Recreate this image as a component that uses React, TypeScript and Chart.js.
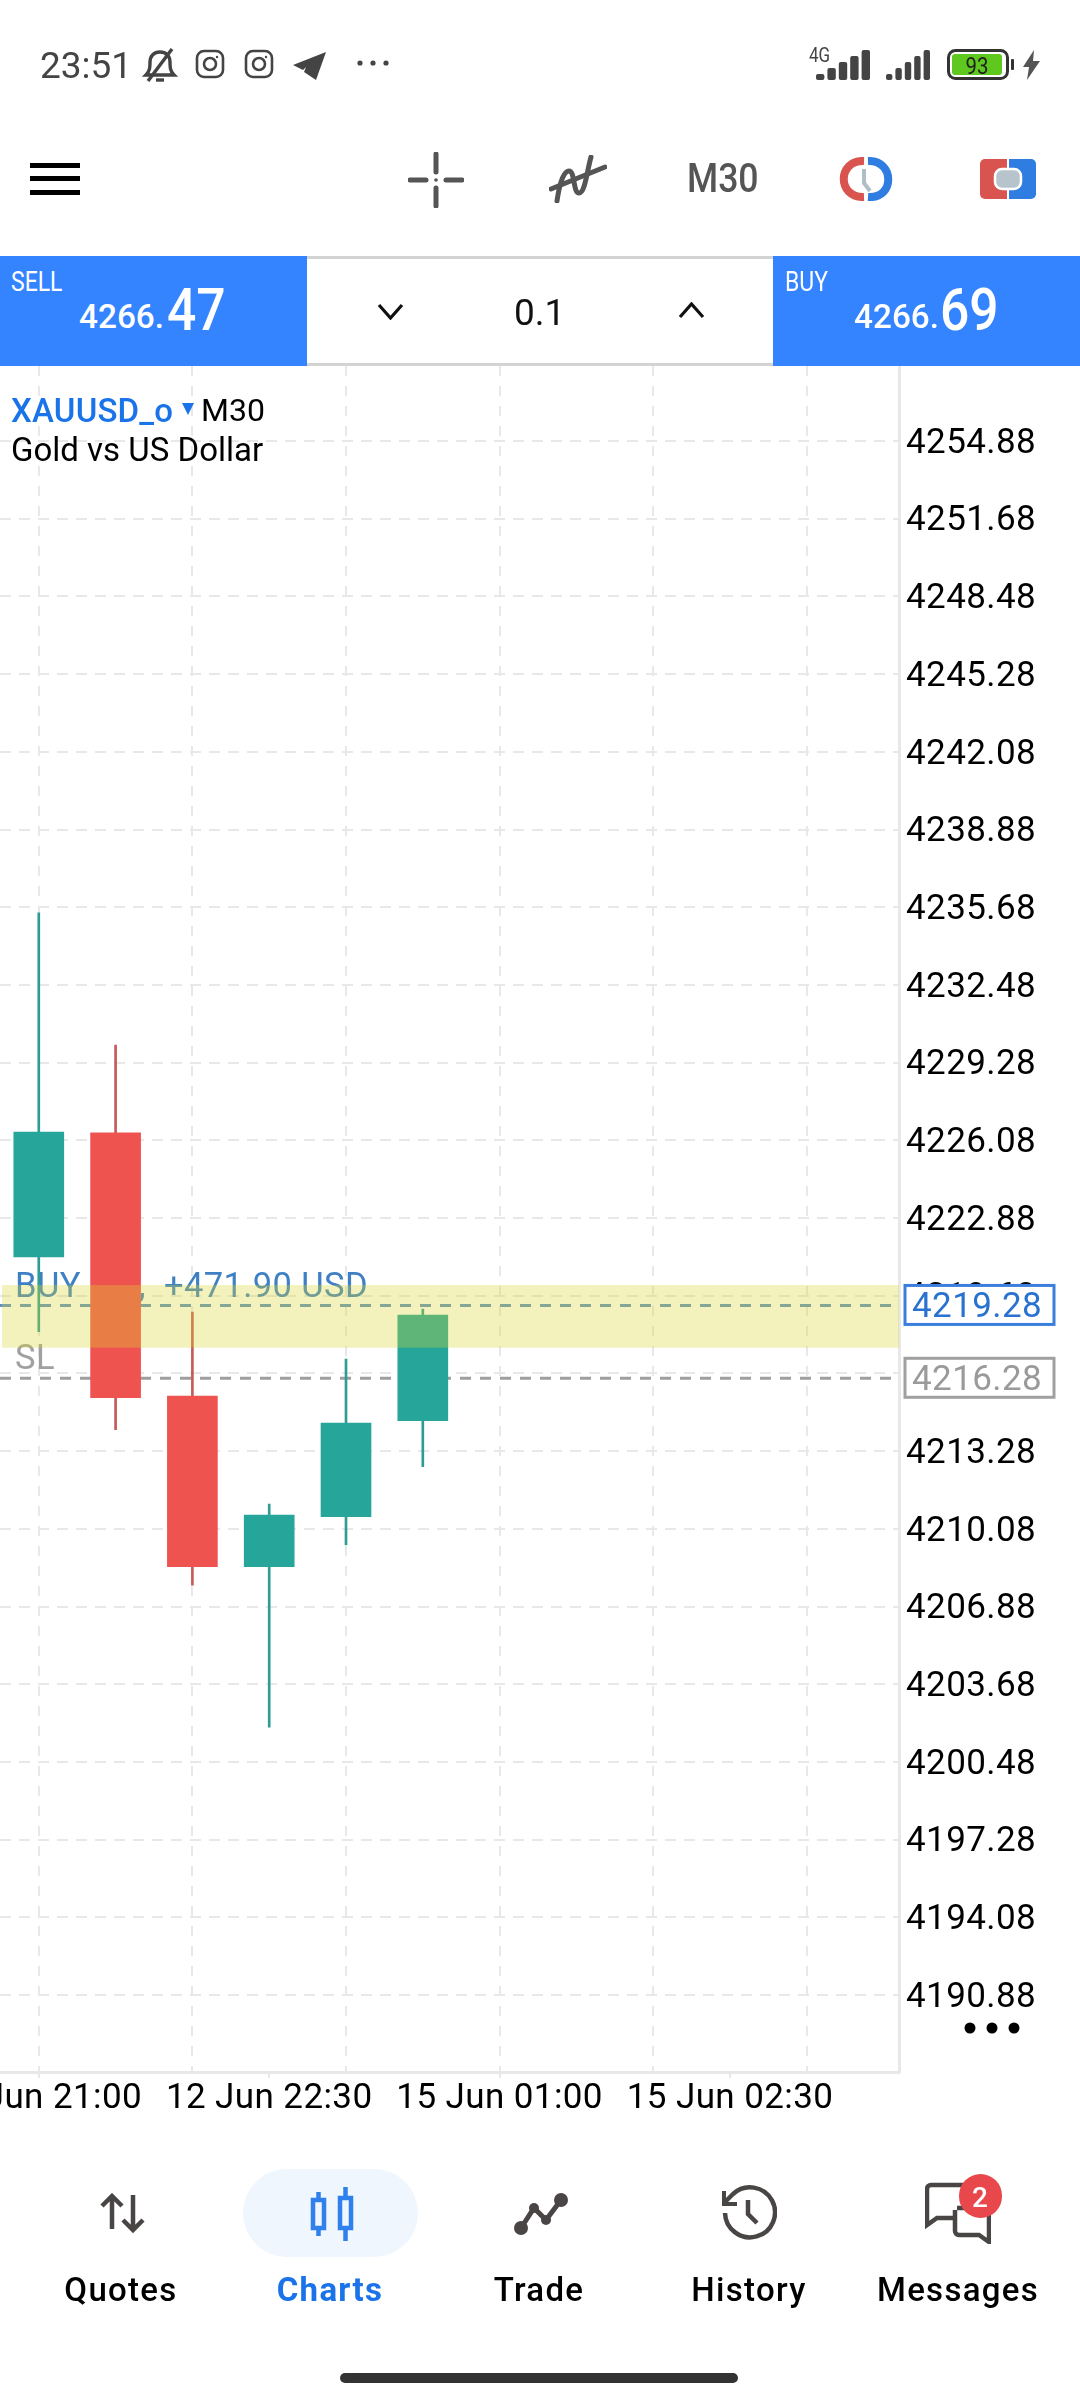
import React, { useEffect, useRef } from "react";
import { Chart, registerables } from "chart.js";

Chart.register(...registerables);

const candleIndex = [0, 1, 2, 3, 4, 5];
const candleOpen = [4221.28, 4226.39, 4215.55, 4208.52, 4210.58, 4214.53];
const candleHigh = [4235.45, 4230.0, 4219.01, 4211.1, 4217.07, 4219.13];
const candleLow = [4218.2, 4214.16, 4207.76, 4201.91, 4209.42, 4212.64];
const candleClose = [4226.42, 4215.48, 4208.52, 4210.65, 4214.44, 4218.88];
const priceTicks = [
  4254.88, 4251.68, 4248.48, 4245.28, 4242.08, 4238.88, 4235.68, 4232.48, 4229.28, 4226.08, 4222.88,
  4219.68, 4216.48, 4213.28, 4210.08, 4206.88, 4203.68, 4200.48, 4197.28, 4194.08, 4190.88,
];
const timeTickIndex = [0, 3, 6, 9];
const timeTickLabels = ["12 Jun 21:00", "12 Jun 22:30", "15 Jun 01:00", "15 Jun 02:30"];
const gridIndex = [0, 2, 4, 6, 8, 10];
const buyPrice = 4219.28;
const stopPrice = 4216.28;
const bandRange = [4217.54, 4220.12];
const buyLabel = "BUY 0.1,  +471.90 USD";
const stopLabel = "SL";
const yRange = [4187.71, 4257.97];
const xRange = [-0.505, 11.2];

const TEAL = "#26a69a";
const RED = "#ef5350";
const GRID = "#e8e8e8";
const BLUE = "#3584ff";

const chartOverlay = {
  id: "chartOverlay",
  beforeDraw(chart: any) {
    chart.ctx.letterSpacing = "0.4px";
  },
  beforeDatasetsDraw(chart: any) {
    const { ctx, chartArea, scales } = chart;
    const y = scales.y;
    ctx.save();
    const by = y.getPixelForValue(buyPrice);
    const sy = y.getPixelForValue(stopPrice);
    ctx.font = "34.5px Roboto";
    ctx.textAlign = "left";
    ctx.textBaseline = "alphabetic";
    ctx.fillStyle = "#3f80c4";
    ctx.fillText(buyLabel, 15, by - 8);
    ctx.fillStyle = "#a0a0a0";
    ctx.fillText(stopLabel, 15, sy - 9);
    ctx.lineWidth = 3;
    ctx.setLineDash([11, 9]);
    ctx.strokeStyle = "#5c90c6";
    ctx.beginPath();
    ctx.moveTo(0, by);
    ctx.lineTo(chartArea.right, by);
    ctx.stroke();
    ctx.strokeStyle = "#9e9e9e";
    ctx.beginPath();
    ctx.moveTo(0, sy);
    ctx.lineTo(chartArea.right, sy);
    ctx.stroke();
    ctx.restore();
  },
  afterDatasetsDraw(chart: any) {
    const { ctx, chartArea, scales } = chart;
    const y = scales.y;
    const t = y.getPixelForValue(bandRange[1]);
    const b = y.getPixelForValue(bandRange[0]);
    ctx.save();
    ctx.fillStyle = "rgba(218,214,46,0.32)";
    ctx.fillRect(2, t, chartArea.right - 2, b - t);
    ctx.restore();
  },
  afterDraw(chart: any) {
    const { ctx, scales } = chart;
    const y = scales.y;
    const box = (value: number, color: string, text: string) => {
      const c = y.getPixelForValue(value);
      ctx.save();
      ctx.fillStyle = "#fff";
      ctx.fillRect(905, c - 20, 149, 39);
      ctx.strokeStyle = color;
      ctx.lineWidth = 3;
      ctx.strokeRect(905, c - 20, 149, 39);
      ctx.fillStyle = text;
      ctx.font = "35px Roboto";
      ctx.textAlign = "left";
      ctx.textBaseline = "middle";
      ctx.fillText(value.toFixed(2), 912, c + 3);
      ctx.restore();
    };
    box(buyPrice, "#3a7fdc", "#2a72d0");
    box(stopPrice, "#a0a0a0", "#9a9a9a");
  },
};

function T({ x, base, size, color = "#000", weight = 400, anchor = "left", sx = 1, sy = 1, ls = 0, children }: any) {
  const tx = anchor === "center" ? "translateX(-50%) " : "";
  return (
    <div
      style={{
        position: "absolute",
        left: x,
        top: base - 0.841 * size,
        fontFamily: "Roboto",
        fontSize: size,
        lineHeight: `${size}px`,
        color,
        fontWeight: weight,
        letterSpacing: ls,
        whiteSpace: "pre",
        transformOrigin: `${anchor === "center" ? "50%" : "0"} 84%`,
        transform: `${tx}scale(${sx},${sy})`,
      }}
    >
      {children}
    </div>
  );
}

function Instagram({ x }: { x: number }) {
  return (
    <svg style={{ position: "absolute", left: x, top: 49 }} width="30" height="30" viewBox="0 0 30 30" fill="none" stroke="#444" strokeWidth="2.6">
      <rect x="2" y="2" width="26" height="26" rx="7" />
      <circle cx="15" cy="15" r="6" />
      <circle cx="22" cy="8" r="1.2" fill="#444" stroke="none" />
    </svg>
  );
}

function Signal({ x, w }: { x: number; w: number }) {
  const hs = [6, 12, 18, 24, 30];
  return (
    <svg style={{ position: "absolute", left: x, top: 50 }} width={w} height="30" viewBox={`0 0 ${w} 30`}>
      {hs.map((h, i) => (
        <rect key={i} x={(w / 5) * i + 1} y={30 - h} width={w / 5 - 3} height={h} rx="2" fill="#444" />
      ))}
    </svg>
  );
}

function StatusBar() {
  return (
    <>
      <T x={40} base={78} size={37} color="#444">23:51</T>
      <svg style={{ position: "absolute", left: 142, top: 47 }} width="36" height="36" viewBox="0 0 36 36" fill="none" stroke="#444" strokeWidth="3.4">
        <path d="M4 28h28c-4-4-4-8-4-13 0-6-4-10-10-10S8 9 8 15c0 5 0 9-4 13z" />
        <path d="M14 33h8" />
        <path d="M30 2 6 34" />
      </svg>
      <Instagram x={195} />
      <Instagram x={244} />
      <svg style={{ position: "absolute", left: 293, top: 52 }} width="33" height="28" viewBox="0 0 33 28">
        <path d="M33 0 0 13l10 5 3-3-2 5 12 8z" fill="#444" />
      </svg>
      <svg style={{ position: "absolute", left: 356, top: 58 }} width="34" height="10">
        <circle cx="4" cy="5" r="2.6" fill="#444" />
        <circle cx="17" cy="5" r="2.6" fill="#444" />
        <circle cx="30" cy="5" r="2.6" fill="#444" />
      </svg>
      <T x={809} base={62} size={20} color="#444" sx={0.85}>4G</T>
      <Signal x={815} w={57} />
      <Signal x={885} w={47} />
      <svg style={{ position: "absolute", left: 947, top: 49 }} width="68" height="31">
        <rect x="1.5" y="1.5" width="59" height="28" rx="7" fill="none" stroke="#333" strokeWidth="3" />
        <rect x="5" y="5" width="50" height="21" rx="3" fill="#5ec81e" />
        <rect x="64" y="10" width="3" height="11" rx="1" fill="#333" />
      </svg>
      <T x={977} base={74} size={24} color="#222" anchor="center" sx={0.85}>93</T>
      <svg style={{ position: "absolute", left: 1023, top: 50 }} width="17" height="30" viewBox="0 0 17 30">
        <path d="M11 0 0 17h6l-2 13L17 11h-7z" fill="#555" />
      </svg>
    </>
  );
}

function Toolbar() {
  return (
    <>
      {[163, 176, 190].map((t) => (
        <div key={t} style={{ position: "absolute", left: 30, top: t, width: 50, height: 5, background: "#000" }} />
      ))}
      <svg style={{ position: "absolute", left: 408, top: 152 }} width="56" height="56" viewBox="0 0 56 56" fill="none" stroke="#555" strokeWidth="5" strokeLinecap="round">
        <path d="M28 2v18M28 36v18M2 28h16M38 28h16" />
        <circle cx="28" cy="28" r="1.8" fill="#555" stroke="none" />
      </svg>
      <svg style={{ position: "absolute", left: 549, top: 155 }} width="58" height="48" viewBox="0 0 58 48" fill="none" stroke="#555" strokeWidth="5" strokeLinecap="round">
        <path d="M2 34 56 12" />
        <path d="M8 46c2-14 6-30 12-30s4 22 10 22 8-22 12-36" />
      </svg>
      <T x={687} base={193} size={40} color="#555" weight={500} sx={0.89}>M30</T>
      <svg style={{ position: "absolute", left: 838, top: 157 }} width="56" height="44" viewBox="0 0 56 44" fill="none" strokeWidth="8">
        <path d="M26 4C-1 3-1 41 26 40" stroke="#d9534f" />
        <path d="M30 4c27-1 27 38 0 36" stroke="#2f7de0" />
        <path d="M26 12v14l6 8" stroke="#b0bec5" strokeWidth="4" />
      </svg>
      <svg style={{ position: "absolute", left: 980, top: 159 }} width="56" height="40" viewBox="0 0 56 40">
        <path d="M5 0h22v40H5a5 5 0 0 1-5-5V5a5 5 0 0 1 5-5z" fill="#d9534f" />
        <path d="M29 0h22a5 5 0 0 1 5 5v30a5 5 0 0 1-5 5H29z" fill="#2f7de0" />
        <rect x="15" y="10" width="26" height="20" rx="7" fill="#b8c4cc" stroke="#fff" strokeWidth="2.5" />
      </svg>
    </>
  );
}

function TradePanel() {
  const chev = { position: "absolute" as const };
  return (
    <>
      <div style={{ position: "absolute", left: 0, top: 256, width: 1080, height: 110, boxSizing: "border-box", borderTop: "3px solid #d3d3d3", borderBottom: "3px solid #d3d3d3" }} />
      <div style={{ position: "absolute", left: 0, top: 256, width: 307, height: 110, background: BLUE }} />
      <div style={{ position: "absolute", left: 773, top: 256, width: 307, height: 110, background: BLUE }} />
      <T x={11} base={292} size={28} color="#fff" sx={0.82}>SELL</T>
      <T x={79} base={328} size={34} color="#fff" weight={500} sx={0.98}>4266.</T>
      <T x={167} base={330} size={60} color="#fff" weight={500} sx={0.86}>47</T>
      <T x={785} base={292} size={28} color="#fff" sx={0.82}>BUY</T>
      <T x={854} base={328} size={34} color="#fff" weight={500} sx={0.98}>4266.</T>
      <T x={940} base={330} size={60} color="#fff" weight={500} sx={0.86}>69</T>
      <svg style={{ ...chev, left: 377, top: 303 }} width="27" height="17" fill="none" stroke="#111" strokeWidth="3.2">
        <path d="M2 2 13.5 15 25 2" />
      </svg>
      <T x={514} base={325} size={37} color="#111">0.1</T>
      <svg style={{ ...chev, left: 678, top: 302 }} width="27" height="17" fill="none" stroke="#111" strokeWidth="3.2">
        <path d="M2 15 13.5 2 25 15" />
      </svg>
    </>
  );
}

function ChartTitle() {
  return (
    <>
      <T x={11} base={422} size={33} color="#1a73e8" weight={500} ls={0.2}>XAUUSD_o</T>
      <svg style={{ position: "absolute", left: 182, top: 403 }} width="12" height="12">
        <path d="M0 0h12L6 12z" fill="#1a73e8" />
      </svg>
      <T x={201} base={421} size={32}>M30</T>
      <T x={11} base={461} size={33}>Gold vs US Dollar</T>
      <svg style={{ position: "absolute", left: 964, top: 2022 }} width="56" height="12">
        <circle cx="6" cy="6" r="5.5" fill="#000" />
        <circle cx="28" cy="6" r="5.5" fill="#000" />
        <circle cx="50" cy="6" r="5.5" fill="#000" />
      </svg>
    </>
  );
}

function NavBar() {
  const label = { size: 33, base: 2301, anchor: "center", ls: 1.3, weight: 500 };
  return (
    <>
      <div style={{ position: "absolute", left: 243, top: 2169, width: 175, height: 88, borderRadius: 44, background: "#eff6fe" }} />
      <svg style={{ position: "absolute", left: 100, top: 2193 }} width="46" height="41" viewBox="0 0 46 41" fill="none" stroke="#4a4545" strokeWidth="4.5">
        <path d="M12 36V4M2 13l10-10 10 10" />
        <path d="M33 2v34M23 27l10 10 10-10" />
      </svg>
      <svg style={{ position: "absolute", left: 310, top: 2187 }} width="44" height="54" viewBox="0 0 44 54" fill="none" stroke="#2f80ed" strokeWidth="4.5">
        <rect x="3" y="13" width="11" height="28" />
        <path d="M8.5 5v8M8.5 41v8" />
        <rect x="30" y="11" width="11" height="30" />
        <path d="M35.5 0v11M35.5 41v13" />
      </svg>
      <svg style={{ position: "absolute", left: 513, top: 2192 }} width="56" height="44" viewBox="0 0 56 44" fill="none" stroke="#4a4545" strokeWidth="5">
        <path d="M8 36 21 16l12 12L48 8" />
        <circle cx="8" cy="36" r="7" fill="#4a4545" stroke="none" />
        <circle cx="21" cy="16" r="5" fill="#4a4545" stroke="none" />
        <circle cx="33" cy="28" r="5" fill="#4a4545" stroke="none" />
        <circle cx="48" cy="8" r="7" fill="#4a4545" stroke="none" />
      </svg>
      <svg style={{ position: "absolute", left: 721, top: 2185 }} width="56" height="56" viewBox="0 0 56 56" fill="none" stroke="#4a4545" strokeWidth="4.5">
        <path d="M4 28A25 25 0 1 0 12 9L4 17" />
        <path d="M3 6v13h13" strokeWidth="4" />
        <path d="M27 15v14l9 9" />
      </svg>
      <svg style={{ position: "absolute", left: 925, top: 2182 }} width="66" height="62" viewBox="0 0 66 62" fill="none" stroke="#4a4545" strokeWidth="4.5">
        <path d="M40 3H6a4 4 0 0 0-4 4v36l10-7h16" />
        <path d="M32 26h28a4 4 0 0 1 4 4v30l-10-7H34a4 4 0 0 1-4-4V28" />
      </svg>
      <div style={{ position: "absolute", left: 959, top: 2174, width: 43, height: 44, borderRadius: 22, background: "#e8484c" }} />
      <T x={980} base={2208} size={28} color="#fff" anchor="center" weight={500}>2</T>
      <T x={121} {...label}>Quotes</T>
      <T x={330} {...label} color="#1a73e8" weight={700}>Charts</T>
      <T x={539} {...label}>Trade</T>
      <T x={749} {...label}>History</T>
      <T x={958} {...label}>Messages</T>
      <div style={{ position: "absolute", left: 340, top: 2373, width: 398, height: 10, borderRadius: 5, background: "#333" }} />
    </>
  );
}

export default function App() {
  const ref = useRef<HTMLCanvasElement>(null);
  useEffect(() => {
    document.body.style.margin = "0";
    const up = candleIndex.map((i) => candleClose[i] >= candleOpen[i]);
    const chart = new Chart(ref.current as any, {
      type: "bar",
      data: {
        datasets: [
          {
            label: "wick",
            order: 2,
            barThickness: 2,
            backgroundColor: up.map((u) => (u ? "#2f9c94" : "#c65a58")),
            data: candleIndex.map((i) => ({ x: i, y: [candleLow[i], candleHigh[i]] })),
          },
          {
            label: "body",
            order: 1,
            barThickness: 50,
            backgroundColor: up.map((u) => (u ? TEAL : RED)),
            data: candleIndex.map((i) => ({ x: i, y: [candleOpen[i], candleClose[i]] })),
          },
        ] as any,
      },
      plugins: [chartOverlay],
      options: {
        animation: false,
        responsive: false,
        devicePixelRatio: 1,
        layout: { padding: { top: 366, left: 0, right: 0, bottom: 268 } },
        datasets: { bar: { grouped: false } },
        plugins: { legend: { display: false }, tooltip: { enabled: false }, title: { display: false } },
        scales: {
          x: {
            type: "linear",
            position: "bottom",
            offset: false,
            min: xRange[0],
            max: xRange[1],
            afterBuildTicks: (s: any) => {
              s.ticks = timeTickIndex.map((value) => ({ value }));
            },
            afterFit: (s: any) => {
              s.height = 60;
              s.paddingLeft = 0;
              s.paddingRight = 0;
            },
            ticks: {
              autoSkip: false,
              maxRotation: 0,
              minRotation: 0,
              padding: 0,
              color: "#000",
              font: { family: "Roboto", size: 35 },
              callback: (v: any) => timeTickLabels[timeTickIndex.indexOf(v)] ?? "",
            },
            grid: { offset: false, drawOnChartArea: false, drawTicks: true, tickLength: 6, tickColor: GRID, color: GRID, lineWidth: 2 },
            border: { display: true, color: GRID, width: 3 },
          },
          x2: {
            type: "linear",
            position: "top",
            offset: false,
            min: xRange[0],
            max: xRange[1],
            afterBuildTicks: (s: any) => {
              s.ticks = gridIndex.map((value) => ({ value }));
            },
            afterFit: (s: any) => {
              s.height = 0;
              s.paddingLeft = 0;
              s.paddingRight = 0;
            },
            ticks: { display: false },
            grid: { offset: false, drawOnChartArea: true, drawTicks: false, color: GRID, lineWidth: 2 },
            border: { display: false, dash: [10, 10] },
          },
          y: {
            type: "linear",
            position: "right",
            min: yRange[0],
            max: yRange[1],
            afterBuildTicks: (s: any) => {
              s.ticks = priceTicks.map((value) => ({ value }));
            },
            afterFit: (s: any) => {
              s.width = 181;
              s.paddingTop = 0;
              s.paddingBottom = 0;
            },
            ticks: {
              autoSkip: false,
              padding: 7,
              labelOffset: 3,
              color: "#000",
              align: "center",
              crossAlign: "near",
              font: { family: "Roboto", size: 35 },
              callback: (v: any) => Number(v).toFixed(2),
            },
            grid: { drawOnChartArea: true, drawTicks: false, color: GRID, lineWidth: 2 },
            border: { display: true, color: GRID, width: 3, dash: [11, 8] },
          },
        },
      } as any,
    });
    return () => chart.destroy();
  }, []);
  return (
    <div style={{ position: "relative", width: 1080, height: 2400, overflow: "hidden", background: "#fff" }}>
      <canvas ref={ref} width={1080} height={2400} style={{ position: "absolute", left: 0, top: 0, width: 1080, height: 2400 }} />
      <StatusBar />
      <Toolbar />
      <TradePanel />
      <ChartTitle />
      <NavBar />
    </div>
  );
}
